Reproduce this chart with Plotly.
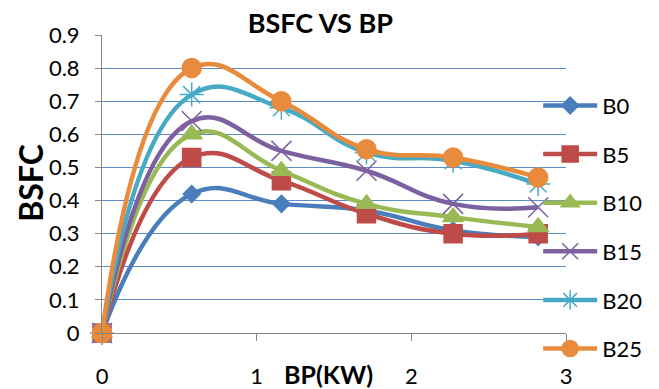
import plotly.graph_objects as go

# Brake power (kW) at each load step
bp = [0, 0.58, 1.16, 1.71, 2.27, 2.82]

# Brake specific fuel consumption for each biodiesel blend
b0 = [0, 0.42, 0.39, 0.37, 0.31, 0.29]
b5 = [0, 0.53, 0.46, 0.36, 0.30, 0.30]
b10 = [0, 0.60, 0.49, 0.39, 0.35, 0.32]
b15 = [0, 0.64, 0.55, 0.49, 0.39, 0.38]
b20 = [0, 0.72, 0.68, 0.545, 0.52, 0.45]
b25 = [0, 0.80, 0.70, 0.555, 0.53, 0.47]

names = ["B0", "B5", "B10", "B15", "B20", "B25"]
series = [b0, b5, b10, b15, b20, b25]
colors = ["#4A7EBB", "#BE4B48", "#98B954", "#7D60A0", "#46AAC5", "#E98B3D"]
symbols = ["diamond", "square", "triangle-up", "x-thin-open", "asterisk-open", "circle"]
sizes = [13, 18, 18, 20, 20, 19]

x_ticks = [0, 1, 2, 3]
y_ticks = [0, 0.1, 0.2, 0.3, 0.4, 0.5, 0.6, 0.7, 0.8, 0.9]

FONT = "Lato, 'Open Sans', sans-serif"

fig = go.Figure()
for name, ys, col, sym, sz in zip(names, series, colors, symbols, sizes):
    fig.add_trace(go.Scatter(
        x=bp, y=ys, name=name, legendgroup=name,
        mode="lines+markers",
        line=dict(color=col, width=4.5, shape="spline", smoothing=1.3),
        marker=dict(symbol=sym, size=sz, color=col,
                    line=dict(color=col, width=1.5)),
        cliponaxis=False,
    ))

fig.update_layout(
    width=659, height=389,
    margin=dict(l=102, r=93, t=35, b=56, autoexpand=False),
    paper_bgcolor="white", plot_bgcolor="white",
    font=dict(family=FONT, color="#000000"),
    title=dict(text="<b>BSFC VS BP</b>", x=0.486, xanchor="center",
               y=1 - 24 / 389, yanchor="middle", yref="container",
               font=dict(size=27, family=FONT, color="#000000")),
    legend=dict(x=0.94, xanchor="left", y=0.355, yanchor="middle",
                bgcolor="rgba(0,0,0,0)", font=dict(size=22, family=FONT),
                tracegroupgap=17, itemwidth=54, maxheight=389),
    xaxis=dict(range=[0, 3], tickvals=x_ticks, ticktext=[str(v) for v in x_ticks],
               showgrid=False, zeroline=False, automargin=False,
               showline=True, linecolor="#868686", linewidth=1,
               ticks="outside", ticklen=7, tickcolor="#868686",
               ticklabelstandoff=17, tickfont=dict(size=22, family=FONT)),
    yaxis=dict(range=[0, 0.9], tickvals=y_ticks,
               ticktext=[("%g" % v) for v in y_ticks],
               showgrid=True, gridcolor="#5B8BC9", gridwidth=1, zeroline=False,
               automargin=False,
               showline=True, linecolor="#868686", linewidth=1,
               ticks="outside", ticklen=6, tickcolor="#868686",
               ticklabelstandoff=11, tickfont=dict(size=22, family=FONT)),
    annotations=[
        dict(text="<b>BP(KW)</b>", x=0.488, xref="paper", y=-0.136, yref="paper",
             xanchor="center", yanchor="middle", showarrow=False,
             font=dict(size=25, family=FONT, color="#000000")),
        dict(text="<b>BSFC</b>", x=-0.1545, xref="paper", y=0.505, yref="paper",
             xanchor="center", yanchor="middle", textangle=-90, showarrow=False,
             font=dict(size=32, family=FONT, color="#000000")),
    ],
)

fig.write_html("out.html")
